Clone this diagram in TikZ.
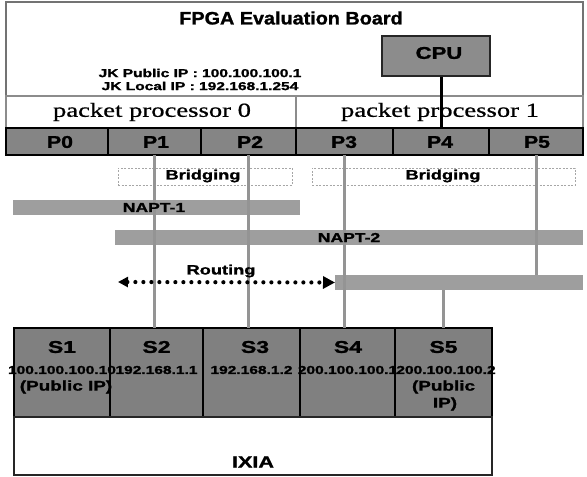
\documentclass[tikz,border=0pt]{standalone}
\usepackage{fontspec}
\setmainfont{Liberation Serif}[FakeBold=0.6, AutoFakeBold=0.6]
\setsansfont{Liberation Sans}[BoldFeatures={FakeBold=1.2}]
\usetikzlibrary{arrows.meta}
% horizontally widened text
\newcommand{\stx}[2][1.35]{\scalebox{#1}[1]{#2}}
\tikzset{
  sb/.style={inner sep=0pt, font=\sffamily\bfseries\fontsize{#1bp}{#1bp}\selectfont},
  rm/.style={inner sep=0pt, font=\rmfamily\fontsize{#1bp}{#1bp}\selectfont},
  cell/.style={draw=black, line width=2bp, inner sep=0pt, outer sep=0pt},
  pcell/.style={cell, fill=black!48, minimum height=27bp},
  scell/.style={cell, line width=2.4bp, fill=black!50, minimum height=89bp},
  bar/.style={fill=black!38, inner sep=0pt, outer sep=0pt, minimum height=15bp},
  bridgebox/.style={draw=black!35, line width=0.9bp, dash pattern=on 2bp off 1.5bp,
                    inner sep=0pt, outer sep=0pt, minimum height=17bp},
  wire/.style={draw=black!42, line width=3bp},
}
\begin{document}
\begin{tikzpicture}[x=1bp, y=-1bp]
\useasboundingbox (0,0) rectangle (587,477);

% evaluation board frame
\node[draw=black!55, line width=1.5bp, minimum width=577bp, minimum height=153bp,
      inner sep=0pt] (board) at (294.5,78.5) {};
\node[sb=18] (title) at (291,18) {\stx[1.1]{FPGA Evaluation Board}};

% CPU
\node[draw=black!85, line width=2.8bp, fill=black!45, minimum width=108bp,
      minimum height=40bp, inner sep=0pt] (cpu) at (436,56) {};
\node[sb=17] (cpulbl) at (439,53) {\stx[1.3]{CPU}};

% addresses of the board
\node[sb=11.5] (jkpub) at (200,73) {\stx{JK Public IP : 100.100.100.1}};
\node[sb=11.5] (jkloc) at (200,86) {\stx{JK Local IP : 192.168.1.254}};

% packet processors
\node[draw=black!45, line width=1.3bp, minimum width=290bp, minimum height=32bp,
      inner sep=0pt, outer sep=0pt] (pp0) at (151,112) {};
\node[draw=black!45, line width=1.3bp, minimum width=287bp, minimum height=32bp,
      inner sep=0pt, outer sep=0pt] (pp1) at (439.5,112) {};
\node[rm=20] (pp0lbl) at (152,112) {\stx[1.33]{packet processor 0}};
\node[rm=20] (pp1lbl) at (440,112) {\stx[1.33]{packet processor 1}};

% ports
\node[pcell, minimum width=102bp] (P0) at (57,141.5) {};
\node[pcell, minimum width=93bp]  (P1) at (154.5,141.5) {};
\node[pcell, minimum width=95bp]  (P2) at (248.5,141.5) {};
\node[pcell, minimum width=97bp]  (P3) at (344.5,141.5) {};
\node[pcell, minimum width=96bp]  (P4) at (441,141.5) {};
\node[pcell, minimum width=94bp]  (P5) at (536,141.5) {};
\foreach \p/\x in {P0/60, P1/156, P2/250, P3/344, P4/440, P5/537}
  \node[sb=17] (\p lbl) at (\x,142) {\stx[1.25]{\p}};

% CPU attached to port P4
\draw[line width=3bp] (P4.north |- cpu.south) -- (P4.north);

% function bands
\node[bridgebox, minimum width=174bp] (br0) at (205,176.5) {};
\node[bridgebox, minimum width=263bp] (br1) at (443.5,176.5) {};
\node[bar, minimum width=287bp] (napt1) at (156.5,207.5) {};
\node[bar, minimum width=468bp] (napt2) at (349,237.5) {};
\node[bar, minimum width=248bp] (rbar)  at (459,282.5) {};

% tester ports and IXIA
\node[scell, minimum width=96bp] (S1) at (62,372.5) {};
\node[scell, minimum width=93bp] (S2) at (156.5,372.5) {};
\node[scell, minimum width=97bp] (S3) at (251.5,372.5) {};
\node[scell, minimum width=95bp] (S4) at (347.5,372.5) {};
\node[scell, minimum width=97bp] (S5) at (443.5,372.5) {};
\node[draw=black!85, line width=1.6bp, minimum width=478bp, minimum height=58bp,
      inner sep=0pt, outer sep=0pt] (ixia) at (253,446) {};

% cabling between ports
\draw[wire] (P1.south) -- (P1.south |- S2.north);
\draw[wire] (P2.south) -- (P2.south |- S3.north);
\draw[wire] (P3.south) -- (P3.south |- S4.north);
\draw[wire] (P5.south) -- (P5.south |- rbar.north);
\draw[wire] (S5.north |- rbar.south) -- (S5.north);

% routing arrow
\coordinate (rleft) at (118,282);
\draw[line width=4.2bp, line cap=round, dash pattern=on 0bp off 8bp,
      {Triangle[length=10bp,width=10bp]}-{Triangle[length=12bp,width=12bp]}]
  (rleft) -- (rbar.west);

% band labels
\node[sb=13.5] (br0lbl) at (203,176) {\stx{Bridging}};
\node[sb=13.5] (br1lbl) at (443,176) {\stx{Bridging}};
\node[sb=13] (napt1lbl) at (154,207.5) {\stx{NAPT-1}};
\node[sb=13] (napt2lbl) at (349,237.5) {\stx{NAPT-2}};
\node[sb=13.5] (routelbl) at (221,271) {\stx{Routing}};

% tester port labels
\foreach \s/\x in {S1/62, S2/156.5, S3/255, S4/348, S5/443.5}
  \node[sb=17] (\s lbl) at (\x,347) {\stx[1.35]{\s}};
\node[sb=11.5] (S1ip) at (62,370) {\stx{100.100.100.10}};
\node[sb=11.5] (S2ip) at (156.5,370) {\stx{192.168.1.1}};
\node[sb=11.5] (S3ip) at (251.5,370) {\stx{192.168.1.2}};
\node[sb=11.5] (S4ip) at (347.5,370) {\stx{200.100.100.1}};
\node[sb=11.5] (S5ip) at (446,370) {\stx{200.100.100.2}};
\node[sb=14] (S1pub) at (66,387) {\stx{(Public IP)}};
\node[sb=14] (S5pub) at (443.5,387) {\stx{(Public}};
\node[sb=14] (S5ipx) at (445,404) {\stx{IP)}};
\node[sb=16] (ixialbl) at (253,462) {\stx{IXIA}};
\end{tikzpicture}
\end{document}
